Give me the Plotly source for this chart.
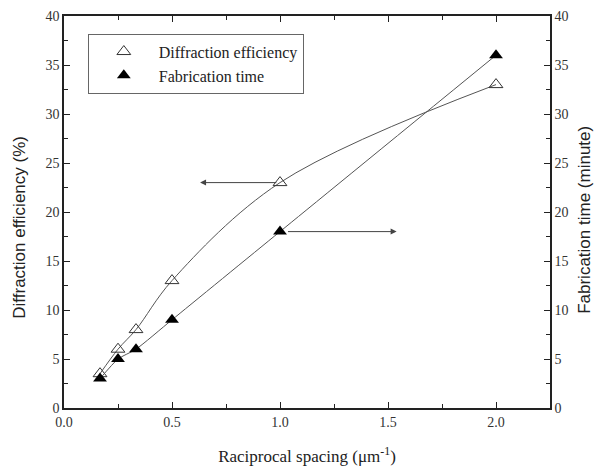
import plotly.graph_objects as go

x_spacing = [1/6, 0.25, 1/3, 0.5, 1.0, 2.0]
diff_eff = [3.5, 6, 8, 13, 23, 33]
fab_time = [3, 5, 6, 9, 18, 36]

x_ticks = [0.0, 0.5, 1.0, 1.5, 2.0]
x_tick_text = ["0.0", "0.5", "1.0", "1.5", "2.0"]
y_ticks = [0, 5, 10, 15, 20, 25, 30, 35, 40]

SERIF = "Liberation Serif, Times New Roman, serif"
SANS = "Liberation Sans, Arial, sans-serif"
LINE = "#555555"
AX = "#222222"

fig = go.Figure()
fig.add_trace(go.Scatter(x=x_spacing, y=diff_eff, mode="lines",
                         line=dict(color=LINE, width=1, shape="spline", smoothing=1.0),
                         showlegend=False, hoverinfo="skip"))
fig.add_trace(go.Scatter(x=x_spacing, y=fab_time, mode="lines", yaxis="y2",
                         line=dict(color=LINE, width=1, shape="spline", smoothing=0.6),
                         showlegend=False, hoverinfo="skip"))
fig.add_trace(go.Scatter(x=x_spacing, y=diff_eff, mode="markers",
                         name="Diffraction efficiency",
                         marker=dict(symbol="triangle-up-open", size=12,
                                     color="#333333", line=dict(width=1))))
fig.add_trace(go.Scatter(x=x_spacing, y=fab_time, mode="markers", yaxis="y2",
                         name="Fabrication time",
                         marker=dict(symbol="triangle-up", size=12, color="black")))

fig.add_annotation(x=0.63, y=23, xref="x", yref="y", ax=0.99, ay=23,
                   axref="x", ayref="y", showarrow=True, arrowhead=2,
                   arrowsize=1.2, arrowwidth=1, arrowcolor="#444", text="")
fig.add_annotation(x=1.54, y=18, xref="x", yref="y2", ax=1.03, ay=18,
                   axref="x", ayref="y2", showarrow=True, arrowhead=2,
                   arrowsize=1.2, arrowwidth=1, arrowcolor="#444", text="")

# y-axis titles as rotated annotations
fig.add_annotation(text="Diffraction efficiency (%)", xref="paper", yref="paper",
                   x=-0.0905, y=0.46, textangle=-90, showarrow=False,
                   xanchor="center", yanchor="middle",
                   font=dict(family=SANS, size=17, color=AX))
fig.add_annotation(text="Fabrication time (minute)", xref="paper", yref="paper",
                   x=1.072, y=0.48, textangle=-90, showarrow=False,
                   xanchor="center", yanchor="middle",
                   font=dict(family=SANS, size=17, color=AX))

axis_common = dict(showline=True, linecolor=AX, linewidth=1.5,
                   ticks="inside", ticklen=6, tickwidth=1.2, tickcolor=AX,
                   showgrid=False, zeroline=False, automargin=False,
                   tickfont=dict(family=SERIF, size=14, color="#333"))

fig.update_layout(
    width=600, height=470,
    margin=dict(l=64, r=50, t=16, b=62),
    paper_bgcolor="white", plot_bgcolor="white",
    xaxis=dict(range=[0, 2.25], tickvals=x_ticks, ticktext=x_tick_text,
               mirror="ticks",
               minor=dict(dtick=0.25, tick0=0, ticks="inside", ticklen=4, tickcolor=AX),
               title=dict(text="Raciprocal spacing (\u03bcm<sup>-1</sup>)",
                          font=dict(family=SERIF, size=17, color=AX), standoff=22),
               **axis_common),
    yaxis=dict(range=[0, 40], tickvals=y_ticks,
               minor=dict(dtick=2.5, tick0=0, ticks="inside", ticklen=4, tickcolor=AX),
               **axis_common),
    yaxis2=dict(range=[0, 40], tickvals=y_ticks, overlaying="y", side="right",
                minor=dict(dtick=2.5, tick0=0, ticks="inside", ticklen=4, tickcolor=AX),
                **axis_common),
    legend=dict(x=0.049, y=0.955, xanchor="left", yanchor="top",
                bordercolor="#666", borderwidth=1, bgcolor="white",
                font=dict(family=SERIF, size=16, color=AX),
                tracegroupgap=0, itemwidth=60),
)

fig.write_html("out.html", config={"displayModeBar": False},
               post_script="document.body.style.margin='0px';document.body.style.padding='0px';")
